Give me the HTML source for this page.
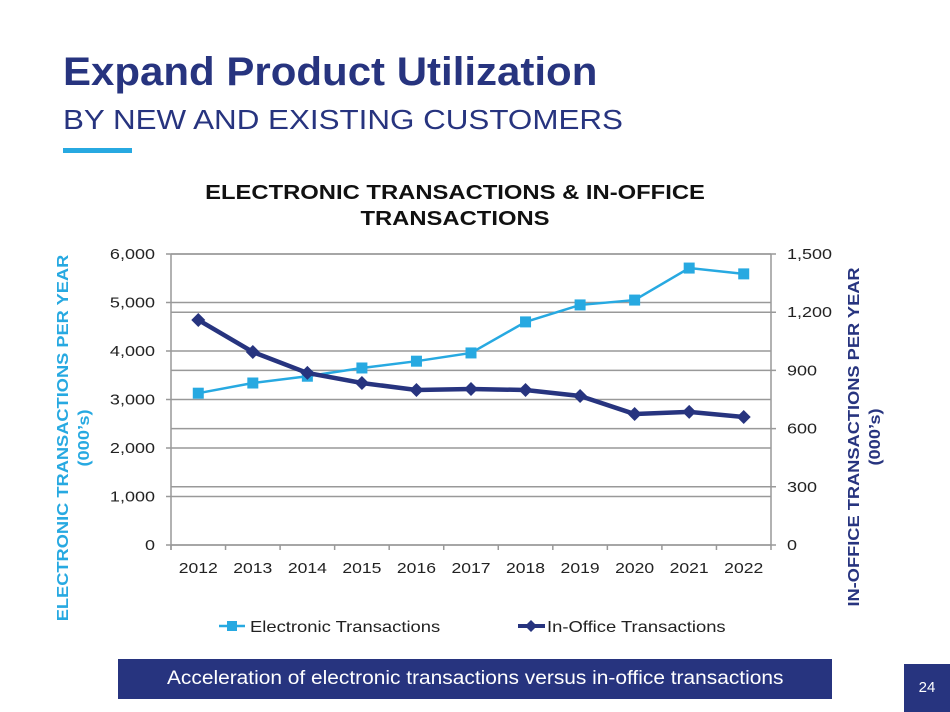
<!DOCTYPE html>
<html><head><meta charset="utf-8"><style>
body{margin:0;width:950px;height:712px;background:#fff;font-family:"Liberation Sans",Arial,sans-serif;position:relative;overflow:hidden}
.t1{position:absolute;left:63px;top:50px;font-size:40px;font-weight:bold;color:#27347f;transform:scaleX(1.05);transform-origin:left;white-space:nowrap}
.t2{position:absolute;left:63px;top:104px;font-size:28px;color:#27347f;transform:scaleX(1.12);transform-origin:left;white-space:nowrap}
.bar{position:absolute;left:63px;top:148px;width:69px;height:5px;background:#27a9e1}
.foot{position:absolute;left:118px;top:659px;width:714px;height:40px;background:#27347f;color:#fff;font-size:19px;text-align:center;line-height:40px}
.foot span{display:inline-block;transform:scaleX(1.1)}
.pg{position:absolute;left:904px;top:664px;width:46px;height:48px;background:#27347f;color:#fff;font-size:15px;text-align:center;line-height:48px}
</style></head><body>
<div class="t1">Expand Product Utilization</div>
<div class="t2">BY NEW AND EXISTING CUSTOMERS</div>
<div class="bar"></div>
<svg id="c" width="950" height="712" style="position:absolute;left:0;top:0"></svg>
<div class="foot"><span>Acceleration of electronic transactions versus in-office transactions</span></div>
<div class="pg">24</div>
<script>
const years=["2012","2013","2014","2015","2016","2017","2018","2019","2020","2021","2022"];
const electronic=[3130,3340,3480,3650,3790,3960,4600,4950,5050,5710,5590];
const inOffice=[1160,995,887,835,799,804,799,768,675,686,660];
const leftTicks=[0,1000,2000,3000,4000,5000,6000];
const rightTicks=[0,300,600,900,1200,1500];
const NS="http://www.w3.org/2000/svg",svg=document.getElementById('c');
const X0=171,X1=771,Y0=545,Y1=254;
const xs=i=>X0+(i+0.5)*(X1-X0)/years.length;
const yl=v=>Y0-(v/6000)*(Y0-Y1);
const yr=v=>Y0-(v/1500)*(Y0-Y1);
function el(t,a,txt){const e=document.createElementNS(NS,t);for(const k in a)e.setAttribute(k,a[k]);if(txt!==undefined)e.textContent=txt;svg.appendChild(e);return e;}
function widen(e,f){const w=e.getComputedTextLength();e.setAttribute('textLength',w*f);e.setAttribute('lengthAdjust','spacingAndGlyphs');return e;}
let e;
e=widen(el('text',{x:455,y:199,'text-anchor':'middle','font-size':20,'font-weight':'bold',fill:'#111'},'ELECTRONIC TRANSACTIONS & IN-OFFICE'),1.19);


widen(el('text',{x:455,y:225,'text-anchor':'middle','font-size':20,'font-weight':'bold',fill:'#111'},'TRANSACTIONS'),1.19);
leftTicks.forEach(v=>{
 e=el('line',{x1:X0-5,x2:X1,y1:yl(v),y2:yl(v),stroke:'#999','stroke-width':1.5});
 
 
 e=widen(el('text',{x:X0-16,y:yl(v)+5,'text-anchor':'end','font-size':15,fill:'#222'},v.toLocaleString('en-US')),1.2);
 
 
});
rightTicks.forEach(v=>{
 e=el('line',{x1:X0,x2:X1+5,y1:yr(v),y2:yr(v),stroke:'#999','stroke-width':1.5});
 
 
 e=widen(el('text',{x:X1+16,y:yr(v)+5,'font-size':15,fill:'#222'},v.toLocaleString('en-US')),1.2);
 
 
});
el('line',{x1:X0,x2:X0,y1:Y1,y2:Y0+5,stroke:'#999','stroke-width':1.5});
el('line',{x1:X1,x2:X1,y1:Y1,y2:Y0+5,stroke:'#999','stroke-width':1.5});
years.forEach((y,i)=>{
 const xb=X0+i*(X1-X0)/years.length;
 el('line',{x1:xb,x2:xb,y1:Y0,y2:Y0+5,stroke:'#999','stroke-width':1.5});
 e=widen(el('text',{x:xs(i),y:Y0+28,'text-anchor':'middle','font-size':15,fill:'#222'},y),1.17);
 
 
});
e=el('polyline',{points:electronic.map((v,i)=>xs(i)+','+yl(v)).join(' '),fill:'none',stroke:'#27a9e1','stroke-width':2.5});


electronic.forEach((v,i)=>{
 e=el('rect',{x:xs(i)-5.5,y:yl(v)-5.5,width:11,height:11,fill:'#27a9e1'});
 
 
});
e=el('polyline',{points:inOffice.map((v,i)=>xs(i)+','+yr(v)).join(' '),fill:'none',stroke:'#27347f','stroke-width':4.5});


inOffice.forEach((v,i)=>{
 const x=xs(i),y=yr(v);
 e=el('polygon',{points:`${x},${y-7} ${x+7},${y} ${x},${y+7} ${x-7},${y}`,fill:'#27347f'});
 
 
});
e=widen(el('text',{transform:'translate(68,438) rotate(-90)','text-anchor':'middle','font-size':16,'font-weight':'bold',fill:'#27a9e1'},'ELECTRONIC TRANSACTIONS PER YEAR'),1.14);


widen(el('text',{transform:'translate(89,438) rotate(-90)','text-anchor':'middle','font-size':16,'font-weight':'bold',fill:'#27a9e1'},'(000\u2019s)'),1.14);
e=widen(el('text',{transform:'translate(859,437) rotate(-90)','text-anchor':'middle','font-size':16,'font-weight':'bold',fill:'#27347f'},'IN-OFFICE TRANSACTIONS PER YEAR'),1.14);


widen(el('text',{transform:'translate(880,437) rotate(-90)','text-anchor':'middle','font-size':16,'font-weight':'bold',fill:'#27347f'},'(000\u2019s)'),1.14);
e=el('line',{x1:219,x2:245,y1:626,y2:626,stroke:'#27a9e1','stroke-width':2.5});


el('rect',{x:227,y:621,width:10,height:10,fill:'#27a9e1'});
widen(el('text',{x:250,y:632,'font-size':16,fill:'#222'},'Electronic Transactions'),1.15);
e=el('line',{x1:518,x2:545,y1:626,y2:626,stroke:'#27347f','stroke-width':4});


el('polygon',{points:'531,620 537,626 531,632 525,626',fill:'#27347f'});
widen(el('text',{x:547,y:632,'font-size':16,fill:'#222'},'In-Office Transactions'),1.15);
</script>
</body></html>
